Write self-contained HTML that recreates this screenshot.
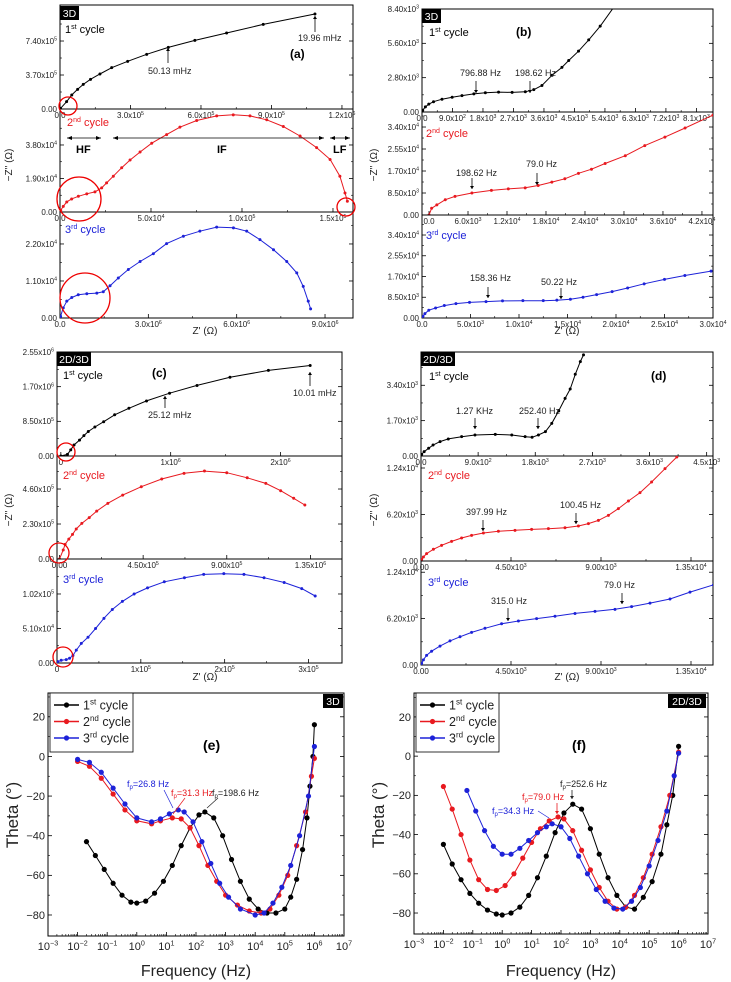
<!DOCTYPE html>
<html><head><meta charset="utf-8"><style>
html,body{margin:0;padding:0;background:#fff;}
svg{display:block;font-family:"Liberation Sans",Arial,sans-serif;}
</style></head><body>
<svg id="fig" width="731" height="982" viewBox="0 0 731 982" xmlns="http://www.w3.org/2000/svg"></svg>
<script>
// ---------- DATA ----------
const a1X=[0,0.02,0.28,0.50,0.75,0.99,1.30,1.70,2.20,2.88,3.69,4.61,5.74,7.09,8.65,10.85];
const a1Y=[0,0.07,0.80,1.52,2.14,2.68,3.23,3.81,4.50,5.19,5.95,6.71,7.47,8.27,9.21,10.34];
const a2X=[0,0.04,0.18,0.37,0.64,1.01,1.47,1.92,2.29,2.56,2.93,3.39,3.85,4.40,5.04,5.86,6.59,7.51,8.61,9.52,10.44,11.36,12.27,13.19,14.10,14.84,15.38,15.66,15.79];
const a2Y=[0,0.10,0.32,0.57,0.74,0.89,1.03,1.14,1.37,1.65,2.03,2.51,2.95,3.40,3.90,4.39,4.81,5.19,5.45,5.51,5.45,5.23,4.85,4.31,3.65,2.98,2.03,1.08,0.61];
const a3X=[0,0.02,0.11,0.23,0.40,0.62,0.91,1.25,1.47,1.70,1.98,2.32,2.72,3.17,3.62,4.19,4.75,5.32,5.89,6.34,6.79,7.25,7.70,8.04,8.26,8.43,8.51];
const a3Y=[0,0.05,0.30,0.50,0.61,0.69,0.72,0.74,0.78,0.96,1.19,1.44,1.68,1.91,2.21,2.43,2.58,2.70,2.68,2.58,2.33,2.03,1.68,1.34,0.94,0.50,0.27];
const b1X=[0,0.02,0.10,0.20,0.34,0.59,0.89,1.18,1.53,1.87,2.26,2.66,3.05,3.30,3.54,3.84,4.13,4.33,4.62,4.92,5.26,5.66];
const b1Y=[0,0.14,0.42,0.64,0.84,1.04,1.20,1.34,1.48,1.57,1.62,1.60,1.65,1.82,2.16,3.00,3.64,4.20,4.96,5.88,7.00,8.54];
const b2X=[0,0.04,0.12,0.25,0.40,0.66,0.96,1.22,1.48,1.68,1.89,2.09,2.30,2.50,2.71,3.02,3.32,3.63,3.94,4.37];
const b2Y=[0,0.26,0.39,0.59,0.72,0.85,0.95,1.01,1.05,1.14,1.27,1.40,1.61,1.77,1.99,2.29,2.68,3.01,3.36,3.86];
const b3X=[0,0.01,0.03,0.07,0.14,0.23,0.35,0.49,0.66,0.83,1.04,1.25,1.39,1.53,1.66,1.80,1.96,2.12,2.29,2.50,2.71,2.98];
const b3Y=[0,0.07,0.18,0.32,0.41,0.51,0.59,0.64,0.67,0.70,0.71,0.71,0.73,0.77,0.85,0.96,1.08,1.23,1.40,1.58,1.74,1.92];
const c1X=[0,0.06,0.09,0.12,0.17,0.21,0.25,0.31,0.39,0.49,0.62,0.78,0.99,1.24,1.54,1.89,2.27];
const c1Y=[0,0.04,0.15,0.27,0.39,0.50,0.60,0.71,0.84,1.01,1.17,1.35,1.54,1.73,1.93,2.10,2.22];
const c2X=[0,0.02,0.03,0.05,0.07,0.09,0.12,0.16,0.20,0.26,0.34,0.44,0.55,0.67,0.78,0.90,1.01,1.11,1.19,1.26,1.32];
const c2Y=[0,0.59,0.96,1.31,1.62,1.97,2.34,2.72,3.15,3.66,4.20,4.75,5.26,5.63,5.78,5.67,5.34,4.97,4.49,3.99,3.55];
const c3X=[0,0.01,0.05,0.11,0.15,0.19,0.23,0.29,0.37,0.46,0.56,0.66,0.78,0.92,1.08,1.28,1.52,1.75,1.99,2.23,2.47,2.71,2.92,3.08];
const c3Y=[0,0.02,0.04,0.05,0.07,0.11,0.19,0.29,0.38,0.51,0.66,0.79,0.91,1.02,1.11,1.20,1.26,1.31,1.32,1.31,1.26,1.19,1.10,0.99];
const d1X=[0,0.01,0.05,0.12,0.19,0.30,0.43,0.64,0.85,1.17,1.43,1.64,1.75,1.85,1.96,2.06,2.17,2.27,2.35,2.43,2.51,2.56];
const d1Y=[0,0.08,0.21,0.37,0.53,0.69,0.82,0.93,1.01,1.04,1.01,0.93,0.90,1.01,1.17,1.57,2.17,2.77,3.22,3.93,4.54,4.86];
const d2X=[0,0.03,0.12,0.28,0.62,1.03,1.53,2.03,2.53,3.12,3.87,4.70,5.53,6.37,7.20,7.87,8.37,8.87,9.37,9.87,10.37,10.95,11.53,12.20,12.79,13.20];
const d2Y=[0,0.22,0.53,0.98,1.56,2.09,2.62,3.07,3.42,3.73,3.96,4.09,4.22,4.31,4.44,4.67,4.98,5.42,6.09,6.98,8.00,9.11,10.53,12.31,13.87,15.2];
const d3X=[0,0.03,0.12,0.28,0.53,0.95,1.45,1.95,2.53,3.20,4.03,4.87,5.78,6.70,7.70,8.70,9.70,10.53,11.45,12.45,13.45,14.62];
const d3Y=[0,0.23,0.69,1.29,1.84,2.53,3.22,3.77,4.36,4.91,5.51,5.88,6.20,6.52,6.89,7.17,7.44,7.81,8.27,8.82,9.74,10.70];
// Bode (log10 frequency, theta)
const e1F=[-1.7,-1.4,-1.1,-0.8,-0.5,-0.2,0,0.3,0.6,0.9,1.2,1.5,1.8,2.1,2.3,2.6,2.9,3.2,3.5,3.8,4.1,4.4,4.7,5.0,5.2,5.4,5.6,5.75,5.85,5.95,6.0];
const e1T=[-43,-50,-57,-64,-70,-73.5,-74,-73,-69,-63,-55,-45,-36,-29.5,-28,-31,-40,-52,-63,-72,-77,-79,-79,-77,-71,-62,-47,-31,-15,0,16];
const e2F=[-2,-1.6,-1.2,-0.8,-0.4,0,0.5,0.8,1.2,1.5,1.8,2.1,2.4,2.7,3.0,3.4,3.8,4.2,4.5,4.8,5.1,5.4,5.7,5.9,6.0];
const e2T=[-2.5,-5,-11,-19,-27,-32.5,-34,-32.5,-31,-31.5,-36,-45,-55,-63,-70,-75,-78,-79,-77,-70,-60,-45,-28,-10,-1];
const e3F=[-2,-1.6,-1.2,-0.8,-0.4,0,0.5,0.8,1.1,1.4,1.6,1.9,2.2,2.5,2.8,3.1,3.5,4.0,4.3,4.6,4.9,5.2,5.5,5.8,6.0];
const e3T=[-1.5,-3,-8,-16,-24,-31,-33,-31.5,-29,-27,-28,-33,-43,-54,-64,-71,-77,-80,-79,-74,-66,-55,-40,-20,5];
const f1F=[-2,-1.7,-1.4,-1.1,-0.8,-0.5,-0.2,0,0.3,0.6,0.9,1.2,1.5,1.8,2.1,2.4,2.7,3.0,3.3,3.6,3.9,4.2,4.5,4.8,5.1,5.4,5.6,5.8,6.0];
const f1T=[-45,-55,-63,-70,-75,-78.5,-80.5,-81,-80,-77,-71,-62,-51,-39,-29,-24.5,-27,-37,-50,-62,-71,-77,-78,-72,-64,-50,-35,-20,5];
const f2F=[-2,-1.7,-1.4,-1.1,-0.8,-0.5,-0.2,0.1,0.4,0.7,1.0,1.3,1.6,1.9,2.1,2.4,2.7,3.0,3.3,3.6,3.9,4.2,4.5,4.8,5.1,5.4,5.7,6.0];
const f2T=[-15.5,-27,-40,-53,-63,-68,-68.5,-66,-60,-52,-44,-37,-33,-31,-32,-38,-48,-58,-67,-74,-78,-77,-71,-62,-50,-36,-20,2];
const f3F=[-1.2,-0.9,-0.6,-0.3,0,0.3,0.6,0.9,1.2,1.5,1.7,2.0,2.3,2.6,2.9,3.2,3.5,3.8,4.1,4.4,4.7,5.0,5.3,5.6,5.85,6.0];
const f3T=[-17.5,-28,-38,-46,-50,-50,-47,-43,-39,-36,-34.5,-36,-42,-51,-60,-68,-74,-77.5,-78,-74,-67,-56,-43,-28,-10,1.5];
// Tick values / labels
const a1XT=[0,3,6,9,12], a1XL=["0.0","3.0x10^5","6.0x10^5","9.0x10^5","1.2x10^6"];
const a1YT=[0,3.7,7.4], a1YL=["0.00","3.70x10^5","7.40x10^5"];
const a2XT=[0,5,10,15], a2XL=["0.0","5.0x10^4","1.0x10^5","1.5x10^5"];
const a2YT=[0,1.9,3.8], a2YL=["0.00","1.90x10^4","3.80x10^4"];
const a3XT=[0,3,6,9], a3XL=["0.0","3.0x10^6","6.0x10^6","9.0x10^6"];
const a3YT=[0,1.1,2.2], a3YL=["0.00","1.10x10^4","2.20x10^4"];
const b1XT=[0,0.9,1.8,2.7,3.6,4.5,5.4,6.3,7.2,8.1], b1XL=["0.0","9.0x10^2","1.8x10^3","2.7x10^3","3.6x10^3","4.5x10^3","5.4x10^3","6.3x10^3","7.2x10^3","8.1x10^3"];
const b1YT=[0,2.8,5.6,8.4], b1YL=["0.00","2.80x10^3","5.60x10^3","8.40x10^3"];
const b2XT=[0,0.6,1.2,1.8,2.4,3.0,3.6,4.2], b2XL=["0.0","6.0x10^3","1.2x10^4","1.8x10^4","2.4x10^4","3.0x10^4","3.6x10^4","4.2x10^4"];
const b2YT=[0,0.85,1.7,2.55,3.4], b2YL=["0.00","8.50x10^3","1.70x10^4","2.55x10^4","3.40x10^4"];
const b3XT=[0,0.5,1,1.5,2,2.5,3], b3XL=["0.0","5.0x10^3","1.0x10^4","1.5x10^4","2.0x10^4","2.5x10^4","3.0x10^4"];
const c1XT=[0,1,2], c1XL=["0","1x10^6","2x10^6"];
const c1YT=[0,0.85,1.7,2.55], c1YL=["0.00","8.50x10^5","1.70x10^6","2.55x10^6"];
const c2XT=[0,0.45,0.9,1.35], c2XL=["0.00","4.50x10^5","9.00x10^5","1.35x10^6"];
const c2YT=[0,2.3,4.6], c2YL=["0.00","2.30x10^5","4.60x10^5"];
const c3XT=[0,1,2,3], c3XL=["0","1x10^5","2x10^5","3x10^5"];
const c3YT=[0,0.51,1.02], c3YL=["0.00","5.10x10^4","1.02x10^5"];
const d1XT=[0,0.9,1.8,2.7,3.6,4.5], d1XL=["0.0","9.0x10^2","1.8x10^3","2.7x10^3","3.6x10^3","4.5x10^3"];
const d1YT=[0,1.7,3.4], d1YL=["0.00","1.70x10^3","3.40x10^3"];
const d2XT=[0,4.5,9,13.5], d2XL=["0.00","4.50x10^3","9.00x10^3","1.35x10^4"];
const d2YT=[0,6.2,12.4], d2YL=["0.00","6.20x10^3","1.24x10^4"];
const bodeYT=[-80,-60,-40,-20,0,20], bodeYL=["\u221280","\u221260","\u221240","\u221220","0","20"];
const bodeXT=[-3,-2,-1,0,1,2,3,4,5,6,7], bodeXL=["10^-3","10^-2","10^-1","10^0","10^1","10^2","10^3","10^4","10^5","10^6","10^7"];

// ---------- DRAWING ----------
const NS="http://www.w3.org/2000/svg";
const svg=document.getElementById('fig');
function mk(tag,attrs,parent){const e=document.createElementNS(NS,tag);for(const k in attrs)e.setAttribute(k,attrs[k]);(parent||svg).appendChild(e);return e;}
function sup(x,y,str,anchor,size,color,name,weight){
  const t=mk('text',{x:x,y:y,'text-anchor':anchor||'middle','font-size':size,fill:color||'#222','font-weight':weight||'normal'});
  
  
  const parts=str.split('^');
  const s1=mk('tspan',{},t); s1.textContent=parts[0];
  if(parts.length>1){const s2=mk('tspan',{dy:-size*0.4,'font-size':size*0.65},t); s2.textContent=parts[1].replace('-','\u2212');}
  return t;
}
let clipId=0;
function subplot(c,name){
  const g=mk('g',{});
  
  
  const sx=v=>c.L+(v-c.x0)/(c.x1-c.x0)*(c.R-c.L);
  const sy=v=>c.B-(v-c.y0)/(c.y1-c.y0)*(c.B-c.T);
  const fr=mk('rect',{x:c.L,y:c.T,width:c.R-c.L,height:c.B-c.T,fill:'none',stroke:'#000','stroke-width':1},g);
  
  
  const fs=c.fs||8;
  // x ticks
  c.xt.forEach((v,i)=>{const X=sx(v);
    mk('line',{x1:X,y1:c.B,x2:X,y2:c.B-4,stroke:'#000','stroke-width':0.8},g);
    if(c.log){for(let m=2;m<10&&v<c.x1;m++){const Xm=sx(v+Math.log10(m));mk('line',{x1:Xm,y1:c.B,x2:Xm,y2:c.B-2,stroke:'#000','stroke-width':0.6},g);}}
    else if(i<c.xt.length-1){const Xm=sx((v+c.xt[i+1])/2);mk('line',{x1:Xm,y1:c.B,x2:Xm,y2:c.B-2,stroke:'#000','stroke-width':0.6},g);}
    const lbl=sup(X,c.B+(c.xoff||9),c.xl[i],'middle',fs,'#222',name+'-x-tick-label');
  });
  c.yt.forEach((v,i)=>{const Y=sy(v);
    mk('line',{x1:c.L,y1:Y,x2:c.L+4,y2:Y,stroke:'#000','stroke-width':0.8},g);
    mk('line',{x1:c.R,y1:Y,x2:c.R-4,y2:Y,stroke:'#000','stroke-width':0.8},g);
    const nv=i<c.yt.length-1?(v+c.yt[i+1])/2:v+(v-(c.yt[i-1]||0))/2;
    if(nv<c.y1){const Ym=sy(nv);mk('line',{x1:c.L,y1:Ym,x2:c.L+2,y2:Ym,stroke:'#000','stroke-width':0.6},g);mk('line',{x1:c.R,y1:Ym,x2:c.R-2,y2:Ym,stroke:'#000','stroke-width':0.6},g);}
    sup(c.L-3,Y+fs*0.35,c.yl[i],'end',fs,'#222',name+'-y-tick-label');
  });
  const cid='clip'+(clipId++);
  const cp=mk('clipPath',{id:cid},g); mk('rect',{x:c.L,y:c.T,width:c.R-c.L,height:c.B-c.T},cp);
  const sg=mk('g',{'clip-path':'url(#'+cid+')'},g);
  c.series.forEach(s=>{
    const pts=s.x.map((v,i)=>sx(v).toFixed(1)+','+sy(s.y[i]).toFixed(1)).join(' ');
    const pl=mk('polyline',{points:pts,fill:'none',stroke:s.color,'stroke-width':c.lw||1},sg);
    
    
    s.x.forEach((v,i)=>{
      const m=mk('circle',{cx:sx(v),cy:sy(s.y[i]),r:c.mr||1.5,fill:s.color},sg);
      
      
    });
  });
  return {sx,sy};
}
function txt(x,y,s,size,color,name,extra){const t=mk('text',Object.assign({x:x,y:y,'font-size':size,fill:color||'#222'},extra||{}));t.textContent=s;
  
  return t;}
function arrow(x,y1,y2,color){const l=mk('line',{x1:x,y1:y1,x2:x,y2:y2,stroke:color||'#000','stroke-width':0.8});
  
  
  const d=y2>y1?-1:1; const p=mk('polygon',{points:`${x-2},${y2+3*d} ${x+2},${y2+3*d} ${x},${y2}`,fill:color||'#000'});
  
  }
function harrow(x1,x2,y){const l=mk('line',{x1:x1,y1:y,x2:x2,y2:y,stroke:'#000','stroke-width':0.8});
  
  
  mk('polygon',{points:`${x1},${y} ${x1+5},${y-2} ${x1+5},${y+2}`,fill:'#000'});
  mk('polygon',{points:`${x2},${y} ${x2-5},${y-2} ${x2-5},${y+2}`,fill:'#000'});}
function circ(cx,cy,r){const c=mk('circle',{cx:cx,cy:cy,r:r,fill:'none',stroke:'#e00','stroke-width':1.3});
  
  }
function badge(x,y,w,s,name){const r=mk('rect',{x:x,y:y,width:w,height:14,fill:'#000'});
  
  
  txt(x+w/2,y+11,s,10.5,'#fff',name+'-text',{'text-anchor':'middle'});}
function cyc(x,y,n,sp,color){const t=mk('text',{x:x,y:y,'font-size':11,fill:color});
  
  
  mk('tspan',{},t).textContent=n; const s=mk('tspan',{dy:-4,'font-size':7},t); s.textContent=sp; const r=mk('tspan',{dy:4},t); r.textContent=' cycle';}
function ytitle(x,y,s){const t=txt(x,y,s,10,'#222','y-axis-title',{'text-anchor':'middle',transform:`rotate(-90 ${x} ${y})`});}

const K='#000',R='#e8191f',B='#1d22d8';
// Panel a
subplot({L:60,R:353,T:5,B:109,x0:0,x1:12.47,y0:0,y1:11.32,xt:a1XT,xl:a1XL,yt:a1YT,yl:a1YL,series:[{x:a1X,y:a1Y,color:K,name:'a-cycle1'}]},'panel-a-cycle1');
subplot({L:60,R:353,T:109,B:212,x0:0,x1:16.1,y0:0,y1:5.84,xt:a2XT,xl:a2XL,yt:a2YT,yl:a2YL,series:[{x:a2X,y:a2Y,color:R,name:'a-cycle2'}]},'panel-a-cycle2');
subplot({L:60,R:353,T:212,B:318,x0:0,x1:9.95,y0:0,y1:3.15,xt:a3XT,xl:a3XL,yt:a3YT,yl:a3YL,series:[{x:a3X,y:a3Y,color:B,name:'a-cycle3'}]},'panel-a-cycle3');
// Panel b
subplot({L:422,R:713,T:9,B:112,x0:0,x1:8.59,y0:0,y1:8.4,xt:b1XT,xl:b1XL,yt:b1YT,yl:b1YL,series:[{x:b1X,y:b1Y,color:K,name:'b-cycle1'}]},'panel-b-cycle1');
subplot({L:422,R:713,T:112,B:215,x0:-0.108,x1:4.37,y0:0,y1:3.98,xt:b2XT,xl:b2XL,yt:b2YT,yl:b2YL,series:[{x:b2X,y:b2Y,color:R,name:'b-cycle2'}]},'panel-b-cycle2');
subplot({L:422,R:713,T:215,B:318,x0:0,x1:3,y0:0,y1:4.22,xt:b3XT,xl:b3XL,yt:b2YT,yl:b2YL,series:[{x:b3X,y:b3Y,color:B,name:'b-cycle3'}]},'panel-b-cycle3');
// Panel c
subplot({L:57,R:342,T:352,B:456,x0:-0.035,x1:2.56,y0:0,y1:2.55,xt:c1XT,xl:c1XL,yt:c1YT,yl:c1YL,series:[{x:c1X,y:c1Y,color:K,name:'c-cycle1'}]},'panel-c-cycle1');
subplot({L:57,R:342,T:456,B:559,x0:-0.0135,x1:1.52,y0:0,y1:6.77,xt:c2XT,xl:c2XL,yt:c2YT,yl:c2YL,series:[{x:c2X,y:c2Y,color:R,name:'c-cycle2'}]},'panel-c-cycle2');
subplot({L:57,R:342,T:559,B:663,x0:0,x1:3.4,y0:0,y1:1.537,xt:c3XT,xl:c3XL,yt:c3YT,yl:c3YL,series:[{x:c3X,y:c3Y,color:B,name:'c-cycle3'}]},'panel-c-cycle3');
// Panel d
subplot({L:421,R:713,T:352,B:456,x0:0,x1:4.6,y0:0,y1:5.0,xt:d1XT,xl:d1XL,yt:d1YT,yl:d1YL,series:[{x:d1X,y:d1Y,color:K,name:'d-cycle1'}]},'panel-d-cycle1');
subplot({L:421,R:713,T:456,B:561,x0:0,x1:14.6,y0:0,y1:14,xt:d2XT,xl:d2XL,yt:d2YT,yl:d2YL,series:[{x:d2X,y:d2Y,color:R,name:'d-cycle2'}]},'panel-d-cycle2');
subplot({L:421,R:713,T:561,B:665,x0:0,x1:14.6,y0:0,y1:13.9,xt:d2XT,xl:d2XL,yt:d2YT,yl:d2YL,series:[{x:d3X,y:d3Y,color:B,name:'d-cycle3'}]},'panel-d-cycle3');
// Panel e, f
subplot({L:48,R:344,T:693,B:936,x0:-3,x1:7,y0:-90.6,y1:32,log:true,xt:bodeXT,xl:bodeXL,yt:bodeYT,yl:bodeYL,fs:11,xoff:14,mr:2.6,lw:1,
  series:[{x:e1F,y:e1T,color:K,name:'e-cycle1'},{x:e2F,y:e2T,color:R,name:'e-cycle2'},{x:e3F,y:e3T,color:B,name:'e-cycle3'}]},'panel-e');
subplot({L:414,R:708,T:693,B:934,x0:-3,x1:7,y0:-90.7,y1:32.2,log:true,xt:bodeXT,xl:bodeXL,yt:bodeYT,yl:bodeYL,fs:11,xoff:14,mr:2.6,lw:1,
  series:[{x:f1F,y:f1T,color:K,name:'f-cycle1'},{x:f2F,y:f2T,color:R,name:'f-cycle2'},{x:f3F,y:f3T,color:B,name:'f-cycle3'}]},'panel-f');

// Axis titles
txt(205,334,"Z' (\u03A9)",10,'#222','x-axis-title',{'text-anchor':'middle'});
txt(567,334,"Z' (\u03A9)",10,'#222','x-axis-title',{'text-anchor':'middle'});
txt(205,680,"Z' (\u03A9)",10,'#222','x-axis-title',{'text-anchor':'middle'});
txt(567,680,"Z' (\u03A9)",10,'#222','x-axis-title',{'text-anchor':'middle'});
ytitle(12,165,"\u2212Z'' (\u03A9)");ytitle(377,165,"\u2212Z'' (\u03A9)");
ytitle(12,510,"\u2212Z'' (\u03A9)");ytitle(377,510,"\u2212Z'' (\u03A9)");
txt(196,976,"Frequency (Hz)",16,'#222','x-axis-title',{'text-anchor':'middle'});
txt(561,976,"Frequency (Hz)",16,'#222','x-axis-title',{'text-anchor':'middle'});
txt(18,815,"Theta (\u00B0)",17,'#222','y-axis-title',{'text-anchor':'middle',transform:'rotate(-90 18 815)'});
txt(384,815,"Theta (\u00B0)",17,'#222','y-axis-title',{'text-anchor':'middle',transform:'rotate(-90 384 815)'});

// badges & cycle labels
badge(60,6,19,'3D','badge-3d-a');badge(422,9,19,'3D','badge-3d-b');
badge(57,352,34,'2D/3D','badge-2d3d-c');badge(421,352,34,'2D/3D','badge-2d3d-d');
badge(323,694,20,'3D','badge-3d-e');badge(668,694,38,'2D/3D','badge-2d3d-f');
cyc(65,33,'1','st',K);cyc(67,126,'2','nd',R);cyc(65,233,'3','rd',B);
cyc(429,36,'1','st',K);cyc(426,137,'2','nd',R);cyc(426,239,'3','rd',B);
cyc(63,379,'1','st',K);cyc(63,479,'2','nd',R);cyc(63,583,'3','rd',B);
cyc(429,380,'1','st',K);cyc(428,479,'2','nd',R);cyc(428,586,'3','rd',B);

// panel letters
txt(290,58,'(a)',12,'#000','panel-a-letter',{'font-weight':'bold'});
txt(516,36,'(b)',12,'#000','panel-b-letter',{'font-weight':'bold'});
txt(152,377,'(c)',12,'#000','panel-c-letter',{'font-weight':'bold'});
txt(651,380,'(d)',12,'#000','panel-d-letter',{'font-weight':'bold'});
txt(203,750,'(e)',14,'#000','panel-e-letter',{'font-weight':'bold'});
txt(572,750,'(f)',14,'#000','panel-f-letter',{'font-weight':'bold'});

// annotations a
const f9={'font-size':9};
txt(298,41,'19.96 mHz',9,'#222','freq-annotation');arrow(315,32,16);
txt(148,74,'50.13 mHz',9,'#222','freq-annotation');arrow(168,63,48);
harrow(67,101,138);harrow(113,324,138);harrow(330,350,138);
txt(76,153,'HF',11,'#000','hf-label',{'font-weight':'bold'});
txt(217,153,'IF',11,'#000','if-label',{'font-weight':'bold'});
txt(333,153,'LF',11,'#000','lf-label',{'font-weight':'bold'});
circ(68,106,9);circ(79,199,22);circ(85,298,25);circ(346,207,9);
// b
txt(460,76,'796.88 Hz',9,'#222','freq-annotation');arrow(476,81,93);
txt(515,76,'198.62 Hz',9,'#222','freq-annotation');arrow(530,81,93);
txt(456,176,'198.62 Hz',9,'#222','freq-annotation');arrow(472,178,189);
txt(526,167,'79.0 Hz',9,'#222','freq-annotation');arrow(537,173,185);
txt(470,281,'158.36 Hz',9,'#222','freq-annotation');arrow(488,287,298);
txt(541,285,'50.22 Hz',9,'#222','freq-annotation');arrow(561,288,299);
// c
txt(148,418,'25.12 mHz',9,'#222','freq-annotation');arrow(165,408,396);
txt(293,396,'10.01 mHz',9,'#222','freq-annotation');arrow(310,386,372);
circ(66,452,9);circ(59,553,10);circ(63,657,10);
// d
txt(456,414,'1.27 KHz',9,'#222','freq-annotation');arrow(475,418,429);
txt(519,414,'252.40 Hz',9,'#222','freq-annotation');arrow(538,418,429);
txt(466,515,'397.99 Hz',9,'#222','freq-annotation');arrow(483,520,531);
txt(560,508,'100.45 Hz',9,'#222','freq-annotation');arrow(576,513,524);
txt(491,604,'315.0 Hz',9,'#222','freq-annotation');arrow(508,608,621);
txt(604,588,'79.0 Hz',9,'#222','freq-annotation');arrow(622,593,604);

// legends
function legend(x,y,name){const r=mk('rect',{x:x,y:y,width:83,height:59,fill:'#fff',stroke:'#000','stroke-width':0.8});
  
  
  [[K,'1','st'],[R,'2','nd'],[B,'3','rd']].forEach((e,i)=>{const yy=y+12+i*16.5;
    mk('line',{x1:x+4,y1:yy,x2:x+29,y2:yy,stroke:e[0],'stroke-width':1.5});
    mk('circle',{cx:x+16.5,cy:yy,r:2.6,fill:e[0]});
    const t=mk('text',{x:x+33,y:yy+4.5,'font-size':12.5,fill:'#222'});
    
    
    mk('tspan',{},t).textContent=e[1];const s=mk('tspan',{dy:-5,'font-size':8},t);s.textContent=e[2];const q=mk('tspan',{dy:5},t);q.textContent=' cycle';});}
legend(50,693,'legend-e');legend(416,693,'legend-f');
function fp(x,y,val,color,name){const t=mk('text',{x:x,y:y,'font-size':9,fill:color});
  
  
  mk('tspan',{},t).textContent='f';const s=mk('tspan',{dy:2,'font-size':6},t);s.textContent='p';const q=mk('tspan',{dy:-2},t);q.textContent='='+val;}
fp(127,787,'26.8 Hz',B,'fp-annotation');fp(171,796,'31.3 Hz',R,'fp-annotation');fp(212,796,'198.6 Hz','#222','fp-annotation');
mk('line',{x1:164,y1:790,x2:173,y2:808,stroke:B,'stroke-width':0.7});
mk('line',{x1:185,y1:798,x2:173,y2:814,stroke:R,'stroke-width':0.7});
mk('line',{x1:218,y1:798,x2:207,y2:808,stroke:'#222','stroke-width':0.7});
fp(560,787,'252.6 Hz','#222','fp-annotation');fp(522,800,'79.0 Hz',R,'fp-annotation');fp(492,814,'34.3 Hz',B,'fp-annotation');
arrow(572,790,799,'#222');arrow(557,803,814,R);
mk('line',{x1:538,y1:811,x2:549,y2:818,stroke:B,'stroke-width':0.7});
</script>
</body></html>
